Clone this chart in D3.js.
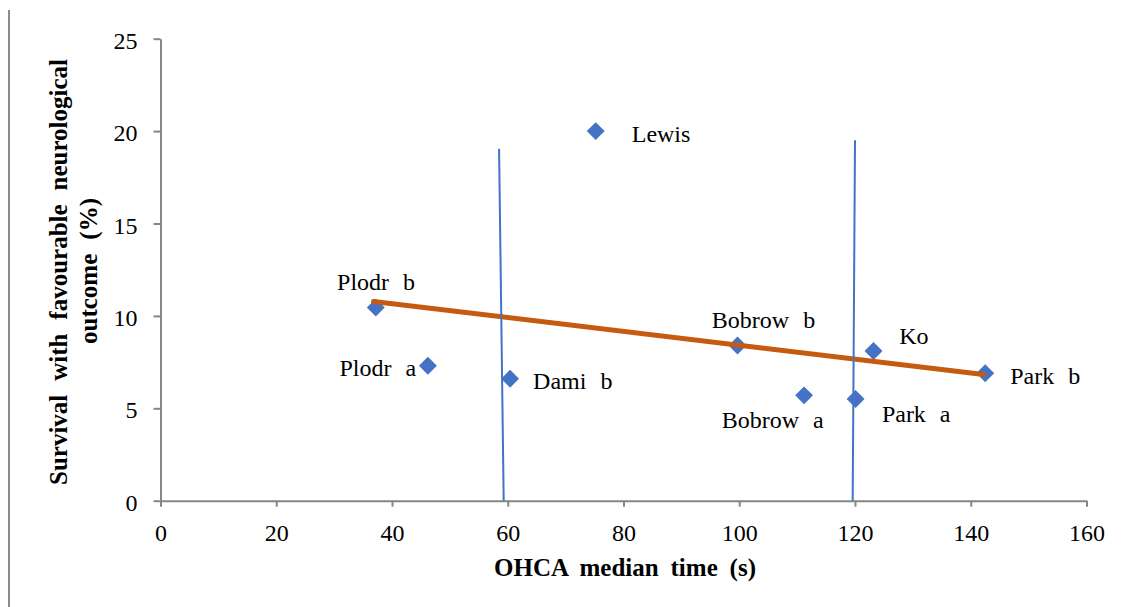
<!DOCTYPE html>
<html>
<head>
<meta charset="utf-8">
<script src="https://cdn.jsdelivr.net/npm/d3@7"></script>
<style>
  body { margin: 0; background: #fff; }
</style>
</head>
<body>
<div id="chart"></div>
<script>
// studies: OHCA median time (s) vs survival with favourable outcome (%)
const studies = ["Plodr b", "Plodr a", "Dami b", "Lewis", "Bobrow b", "Bobrow a", "Park a", "Ko", "Park b"];
const medianTime = [37.2, 46.2, 60.4, 75.2, 99.7, 111.2, 120.1, 123.2, 142.5];
const survival = [10.45, 7.3, 6.6, 20.0, 8.4, 5.7, 5.5, 8.1, 6.9];

// linear trend end points
const trendX = [36.8, 142.2];
const trendY = [10.78, 6.83];

// the two hand drawn vertical markers, top then bottom
const markerX = [[58.5, 59.3], [120.0, 119.6]];
const markerY = [[19.05, 0], [19.5, 0]];

const xTicks = [0, 20, 40, 60, 80, 100, 120, 140, 160];
const yTicks = [0, 5, 10, 15, 20, 25];

const W = 1125, H = 607;
const FONT = "Liberation Serif";
const blue = "#4472C4", orange = "#C55A11", axisGrey = "#868686";

// where each label sits relative to its point
const labelPos = {
  "Plodr b":  { dx: -38.7, dy: -17.6, anchor: "start" },
  "Plodr a":  { dx: -11.7, dy: 10.5, anchor: "end" },
  "Dami b":   { dx: 23, dy: 10.7, anchor: "start" },
  "Lewis":    { dx: 36, dy: 11, anchor: "start" },
  "Bobrow b": { dx: -25.7, dy: -17.7, anchor: "start" },
  "Bobrow a": { dx: -82.3, dy: 32.3, anchor: "start" },
  "Park a":   { dx: 26.3, dy: 22.7, anchor: "start" },
  "Ko":       { dx: 25.7, dy: -7, anchor: "start" },
  "Park b":   { dx: 25, dy: 11, anchor: "start" }
};

const svg = d3.select("#chart").append("svg")
  .attr("width", W)
  .attr("height", H)
  .attr("font-family", FONT);

// grey frame line on the left
svg.append("line")
  .attr("x1", 9).attr("x2", 9)
  .attr("y1", 10).attr("y2", H)
  .attr("stroke", "#8c8c8c")
  .attr("stroke-width", 2);

const x = d3.scaleLinear().domain([0, 160]).range([160.5, 1086.5]);
const y = d3.scaleLinear().domain([0, 25]).range([500.7, 38.7]);

// axes
const xAxis = svg.append("g")
  .attr("transform", `translate(0,${y(0)})`)
  .call(d3.axisBottom(x).tickValues(xTicks).tickSize(6).tickSizeOuter(0).tickPadding(17));

const yAxis = svg.append("g")
  .attr("transform", `translate(${x(0)},0)`)
  .call(d3.axisLeft(y).tickValues(yTicks).tickSize(7).tickSizeOuter(0).tickPadding(16));

[xAxis, yAxis].forEach(g => {
  g.attr("font-family", FONT).attr("font-size", 24);
  g.select(".domain").attr("stroke", axisGrey).attr("stroke-width", 2);
  g.selectAll(".tick line").attr("stroke", axisGrey).attr("stroke-width", 2);
  g.selectAll(".tick text").attr("fill", "#000");
});
yAxis.selectAll(".tick text").attr("dy", "0.4em");

// points
const pts = studies.map((s, i) => ({ name: s, t: medianTime[i], v: survival[i] }));

svg.append("g").selectAll("path")
  .data(pts)
  .join("path")
  .attr("d", d3.symbol(d3.symbolSquare, 160))
  .attr("transform", d => `translate(${x(d.t)},${y(d.v)}) rotate(45)`)
  .attr("fill", blue);

// trend line
svg.append("path")
  .datum(trendX.map((t, i) => [t, trendY[i]]))
  .attr("d", d3.line().x(d => x(d[0])).y(d => y(d[1])))
  .attr("fill", "none")
  .attr("stroke", orange)
  .attr("stroke-width", 5)
  .attr("stroke-linecap", "round");

// vertical markers
svg.append("g").selectAll("line")
  .data(markerX.map((m, i) => ({ xs: m, ys: markerY[i] })))
  .join("line")
  .attr("x1", d => x(d.xs[0])).attr("y1", d => y(d.ys[0]))
  .attr("x2", d => x(d.xs[1])).attr("y2", d => y(d.ys[1]))
  .attr("stroke", blue)
  .attr("stroke-width", 2);

// point labels (wide word gaps like the original text boxes)
svg.append("g")
  .attr("font-size", 24)
  .attr("word-spacing", 8)
  .selectAll("text")
  .data(pts)
  .join("text")
  .attr("x", d => x(d.t) + labelPos[d.name].dx)
  .attr("y", d => y(d.v) + labelPos[d.name].dy)
  .attr("text-anchor", d => labelPos[d.name].anchor)
  .text(d => d.name);

// stretch word gaps so the label fills a given width (justified look)
function justify(sel, target) {
  const n = (sel.text().match(/ /g) || []).length;
  const w = sel.node().getComputedTextLength();
  if (n > 0 && target > w) sel.attr("word-spacing", (target - w) / n);
}

// axis titles
const xTitle = svg.append("text")
  .attr("x", 625).attr("y", 576)
  .attr("text-anchor", "middle")
  .attr("font-size", 25)
  .attr("font-weight", "bold")
  .text("OHCA median time (s)");
justify(xTitle, 262);

const yTitle1 = svg.append("text")
  .attr("transform", "translate(67,272) rotate(-90)")
  .attr("text-anchor", "middle")
  .attr("font-size", 25)
  .attr("font-weight", "bold")
  .text("Survival with favourable neurological");
justify(yTitle1, 426);

const yTitle2 = svg.append("text")
  .attr("transform", "translate(97,271) rotate(-90)")
  .attr("text-anchor", "middle")
  .attr("font-size", 25)
  .attr("font-weight", "bold")
  .text("outcome (%)");
justify(yTitle2, 146);
</script>
</body>
</html>
